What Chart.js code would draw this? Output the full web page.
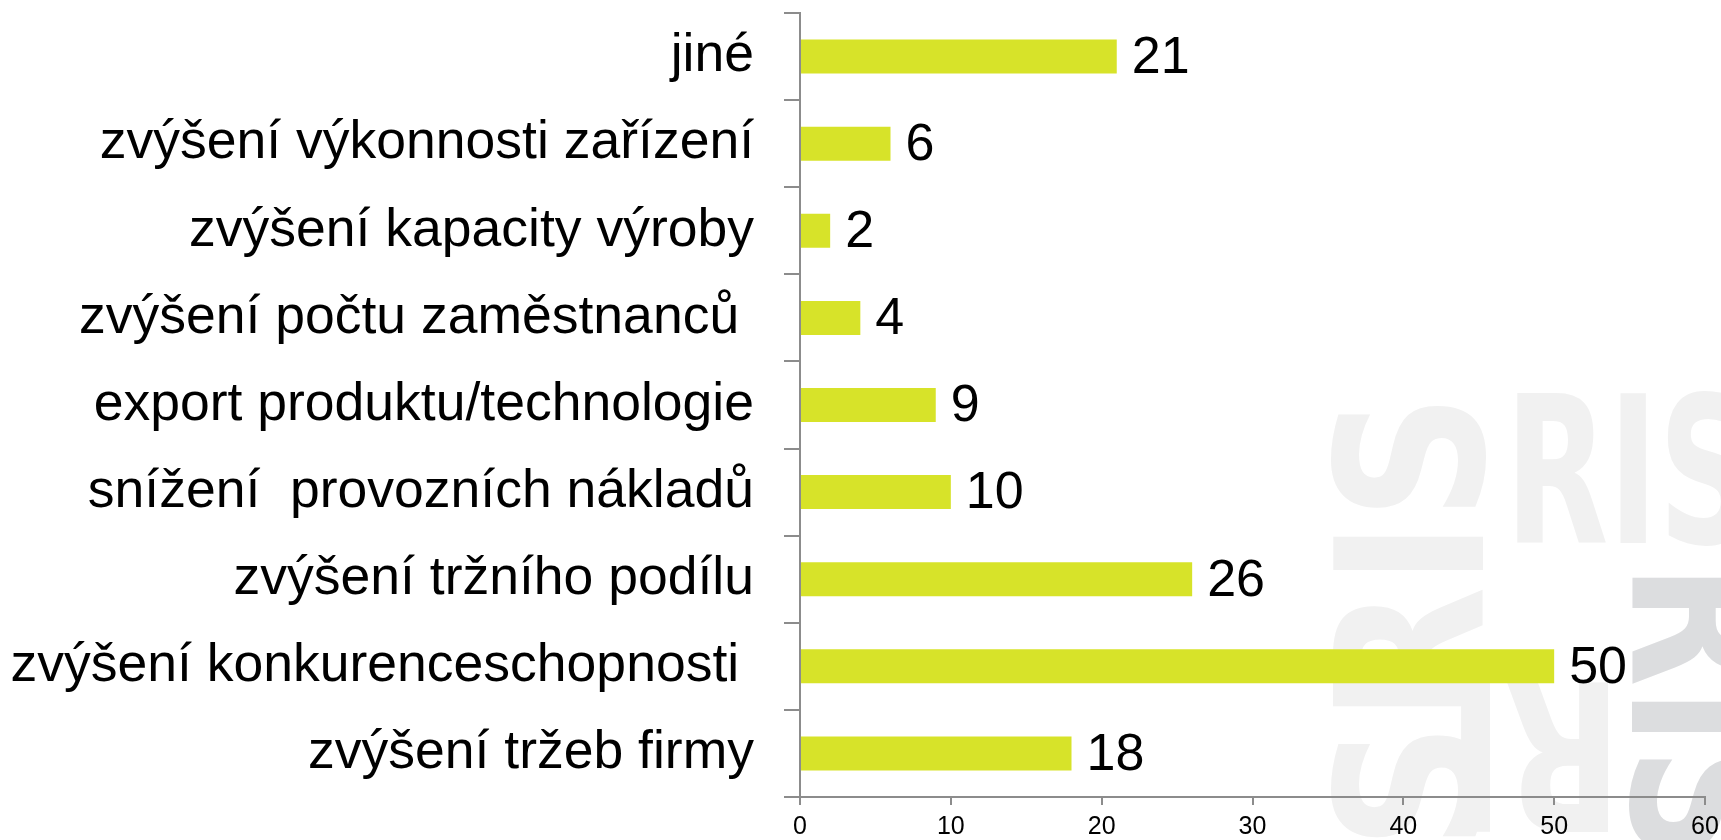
<!DOCTYPE html>
<html lang="cs">
<head>
    <meta charset="UTF-8">
    <title>Přínosy</title>
    <script src="https://cdn.jsdelivr.net/npm/chart.js"></script>
    <style>
        body { margin: 0; background: #fff; }
        #wrap { width: 1721px; height: 840px; position: relative; }
    </style>
</head>
<body>
    <div id="wrap"><canvas id="barChart"></canvas></div>

    <script>
        // data, top to bottom as in the picture
        const categories = [
            'jiné',
            'zvýšení výkonnosti zařízení',
            'zvýšení kapacity výroby',
            'zvýšení počtu zaměstnanců ',
            'export produktu/technologie',
            'snížení  provozních nákladů',
            'zvýšení tržního podílu',
            'zvýšení konkurenceschopnosti ',
            'zvýšení tržeb firmy'
        ];
        const counts = [21, 6, 2, 4, 9, 10, 26, 50, 18];
        const xTicks = [0, 10, 20, 30, 40, 50, 60];

        const barColor = '#d7e329';
        const axisColor = '#8c8c8c';
        const fontFamily = '"Liberation Sans", Arial, sans-serif';

        // light "SRIS" watermark in the lower right corner
        const watermark = {
            id: 'watermark',
            beforeDraw(chart) {
                const ctx = chart.ctx;
                ctx.save();
                ctx.fillStyle = '#fff';
                ctx.fillRect(0, 0, chart.width, chart.height);
                ctx.font = 'bold 205px "DejaVu Sans", sans-serif';
                ctx.textBaseline = 'alphabetic';
                ctx.textAlign = 'left';

                ctx.fillStyle = '#f1f1f1';
                ctx.save();
                ctx.translate(1483, 850);
                ctx.rotate(-Math.PI / 2);
                ctx.fillText('SRIS', 0, 0, 457);
                ctx.restore();

                ctx.fillText('RIS', 1505, 543, 250);

                ctx.save();
                ctx.translate(1622, 682);
                ctx.rotate(Math.PI);
                ctx.fillText('RI', 0, 0, 175);
                ctx.restore();

                ctx.fillStyle = '#dcdddf';
                ctx.save();
                ctx.translate(1632, 563);
                ctx.rotate(Math.PI / 2);
                ctx.fillText('RIS', 0, 0, 300);
                ctx.restore();

                ctx.restore();
            }
        };

        // value next to the end of each bar
        const valueLabels = {
            id: 'valueLabels',
            afterDatasetsDraw(chart) {
                const ctx = chart.ctx;
                ctx.save();
                ctx.font = '52px ' + fontFamily;
                ctx.fillStyle = '#000';
                ctx.textAlign = 'left';
                ctx.textBaseline = 'middle';
                chart.getDatasetMeta(0).data.forEach((bar, i) => {
                    ctx.fillText(String(counts[i]), bar.x + 15, bar.y + 2);
                });
                ctx.restore();
            }
        };

        const ctx = document.getElementById('barChart').getContext('2d');
        new Chart(ctx, {
            type: 'bar',
            data: {
                labels: categories,
                datasets: [{
                    data: counts,
                    backgroundColor: barColor,
                    borderWidth: 0,
                    barPercentage: 0.39,
                    categoryPercentage: 1
                }]
            },
            options: {
                indexAxis: 'y',
                responsive: true,
                maintainAspectRatio: false,
                animation: false,
                layout: { padding: { top: 13, right: 16, left: 0, bottom: 0 } },
                plugins: {
                    legend: { display: false },
                    tooltip: { enabled: false }
                },
                scales: {
                    x: {
                        min: 0,
                        max: 60,
                        afterBuildTicks: (axis) => {
                            axis.ticks = xTicks.map(v => ({ value: v }));
                        },
                        afterFit: (axis) => {
                            axis.height = 43;
                            axis.paddingLeft = 0;
                            axis.paddingRight = 0;
                        },
                        border: { display: true, color: axisColor, width: 2 },
                        grid: {
                            drawOnChartArea: false,
                            drawTicks: true,
                            tickLength: 8,
                            color: axisColor,
                            lineWidth: 2
                        },
                        ticks: {
                            color: '#000',
                            padding: 7,
                            maxRotation: 0,
                            font: { family: fontFamily, size: 25 }
                        }
                    },
                    y: {
                        afterFit: (axis) => {
                            axis.width = 800;
                            axis.paddingTop = 0;
                            axis.paddingBottom = 0;
                        },
                        border: { display: true, color: axisColor, width: 2 },
                        grid: {
                            offset: true,
                            drawOnChartArea: false,
                            drawTicks: true,
                            tickLength: 16,
                            color: axisColor,
                            lineWidth: 2
                        },
                        ticks: {
                            color: '#000',
                            autoSkip: false,
                            padding: 30,
                            font: { family: fontFamily, size: 53.5 }
                        }
                    }
                }
            },
            plugins: [watermark, valueLabels]
        });
    </script>
</body>
</html>
